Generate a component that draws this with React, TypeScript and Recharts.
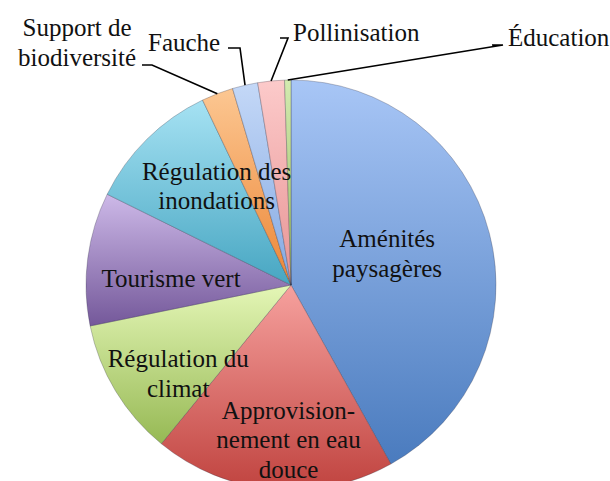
import { Cell, Pie, PieChart } from "recharts";

// ecosystem services, share of total value (%)
const services = [
  "Aménités paysagères",
  "Approvisionnement en eau douce",
  "Régulation du climat",
  "Tourisme vert",
  "Régulation des inondations",
  "Support de biodiversité",
  "Fauche",
  "Pollinisation",
  "Éducation",
];
const shares = [41.9, 19.0, 10.9, 10.5, 10.6, 2.5, 2.0, 2.1, 0.5];
const labelLines = [
  ["Aménités", "paysagères"],
  ["Approvision-", "nement en eau", "douce"],
  ["Régulation du", "climat"],
  ["Tourisme vert"],
  ["Régulation des", "inondations"],
  ["Support de", "biodiversité"],
  ["Fauche"],
  ["Pollinisation"],
  ["Éducation"],
];

const data = services.map((name, i) => ({ name, value: shares[i] }));

// light (top) / dark (bottom) gradient stops per slice
const sliceColors = [
  ["#a8c6f6", "#4a7bbe"],
  ["#f6a19e", "#c0433f"],
  ["#e4f6b6", "#96b954"],
  ["#cdb9e8", "#74589a"],
  ["#a6e2f3", "#47a6c2"],
  ["#fcc792", "#ec8636"],
  ["#c4d8f7", "#84a9e2"],
  ["#fccaca", "#e79494"],
  ["#d3ebb0", "#98ba62"],
];

const LINE = 29.5;
const SHIFT = 8; // middle of the line -> baseline
const RAD = Math.PI / 180;
const textStyle = { fontFamily: "Liberation Serif", fontSize: 25, fill: "#111" };

// inside labels: radius fraction on the mid angle plus a small nudge
const insideLayout: Record<number, { rf: number; dx: number; dy: number }> = {
  0: { rf: 0.5, dx: -3, dy: -5 },
  1: { rf: 0.75, dx: 11, dy: 2 },
  2: { rf: 0.7, dx: 10, dy: 15 },
  3: { rf: 0.6, dx: 2, dy: 10 },
  4: { rf: 0.6, dx: 12, dy: -11 },
};

// outside labels: text position and leader elbow, relative to the pie centre
const outsideLayout: Record<
  number,
  { tx: number; ty: number; anchor: "start" | "middle"; ex1: number; ex2: number; ey: number }
> = {
  5: { tx: -214, ty: -257.5, anchor: "middle", ex1: -149, ex2: -139, ey: -220 },
  6: { tx: -143, ty: -242.5, anchor: "start", ex1: -63, ex2: -51, ey: -237 },
  7: { tx: 2, ty: -252.5, anchor: "start", ex1: -11, ex2: -3, ey: -247 },
  8: { tx: 217, ty: -247.5, anchor: "start", ex1: 201, ex2: 212, ey: -240 },
};

function renderLabel(props: any) {
  const { cx, cy, midAngle, outerRadius, index } = props;
  const lines = labelLines[index];
  const cos = Math.cos(-midAngle * RAD);
  const sin = Math.sin(-midAngle * RAD);

  const inside = insideLayout[index];
  if (inside) {
    const r = outerRadius * inside.rf;
    const x = cx + r * cos + inside.dx;
    const y = cy + r * sin + inside.dy;
    const top = y - ((lines.length - 1) * LINE) / 2;
    return (
      <g key={`lbl-${index}`}>
        {lines.map((line, i) => (
          <text
            key={i}
            style={textStyle}
            textAnchor="middle"
            x={x}
            y={top + i * LINE + SHIFT}
          >
            {line}
          </text>
        ))}
      </g>
    );
  }

  const o = outsideLayout[index];
  const px = cx + outerRadius * cos;
  const py = cy + outerRadius * sin;
  const tx = cx + o.tx;
  const ty = cy + o.ty;
  return (
    <g key={`lbl-${index}`}>
      <polyline
        fill="none"
        points={`${cx + o.ex1},${cy + o.ey} ${cx + o.ex2},${cy + o.ey} ${px},${py}`}
        stroke="#000"
        strokeWidth={1.6}
      />
      {lines.map((line, i) => (
        <text
          key={i}
          style={textStyle}
          textAnchor={o.anchor}
          x={tx}
          y={ty + i * 30 + SHIFT}
        >
          {line}
        </text>
      ))}
    </g>
  );
}

export default function App() {
  return (
    <div style={{ position: "absolute", left: 0, top: 0, background: "#fff" }}>
      <PieChart height={481} width={610}>
        <defs>
          {sliceColors.map(([light, dark], i) => (
            <linearGradient id={`slice-${i}`} key={i} x1="0" x2="0" y1="0" y2="1">
              <stop offset="0%" stopColor={light} />
              <stop offset="100%" stopColor={dark} />
            </linearGradient>
          ))}
        </defs>
        <Pie
          cx={286}
          cy={280}
          data={data}
          dataKey="value"
          endAngle={-270}
          isAnimationActive={false}
          label={renderLabel}
          labelLine={false}
          nameKey="name"
          outerRadius={205}
          startAngle={90}
          stroke="rgba(40,40,60,0.35)"
          strokeWidth={0.8}
        >
          {data.map((item, i) => (
            <Cell fill={`url(#slice-${i})`} key={item.name} />
          ))}
        </Pie>
      </PieChart>
    </div>
  );
}
